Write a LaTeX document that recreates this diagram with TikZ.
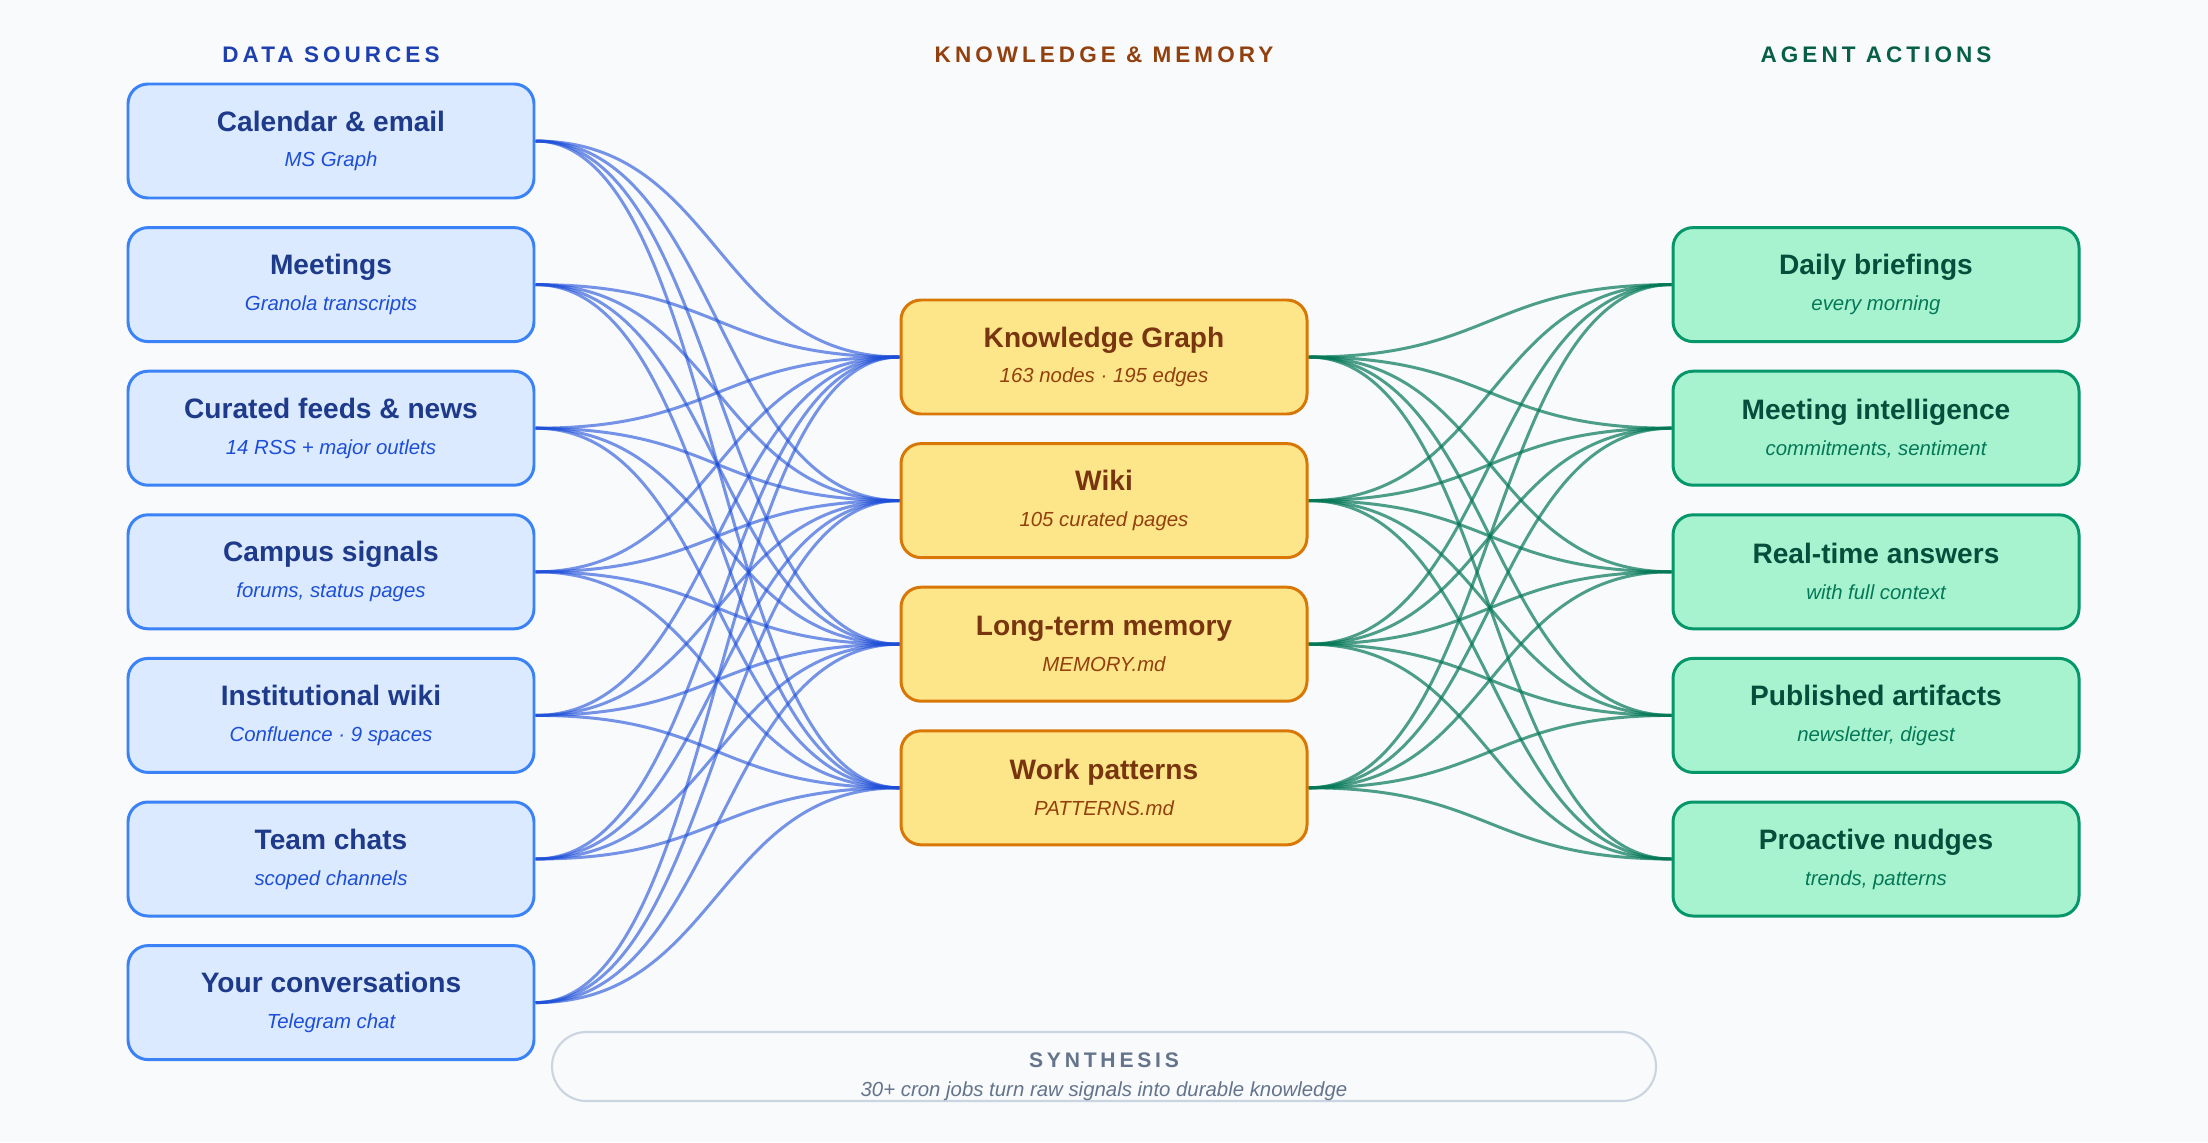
\documentclass[tikz,border=0pt]{standalone}
\usepackage{fontspec}
\setmainfont{Liberation Sans}
\newfontfamily\capsfont[LetterSpace=18]{Liberation Sans}
\usetikzlibrary{backgrounds}
\definecolor{page}{HTML}{F8FAFC}
\definecolor{srcfill}{HTML}{DBEAFE}
\definecolor{srcline}{HTML}{3B82F6}
\definecolor{srcink}{HTML}{1E3A8A}
\definecolor{srcsub}{HTML}{1D4ED8}
\definecolor{srchead}{HTML}{1E40AF}
\definecolor{srcwire}{HTML}{1D4ED8}
\definecolor{memfill}{HTML}{FDE68A}
\definecolor{memline}{HTML}{D97706}
\definecolor{memink}{HTML}{78350F}
\definecolor{memsub}{HTML}{92400E}
\definecolor{actfill}{HTML}{A7F3D0}
\definecolor{actline}{HTML}{059669}
\definecolor{actink}{HTML}{064E3B}
\definecolor{actsub}{HTML}{047857}
\definecolor{acthead}{HTML}{065F46}
\definecolor{actwire}{HTML}{047857}
\definecolor{synline}{HTML}{CBD5E1}
\definecolor{synink}{HTML}{64748B}

\newcommand{\boxlines}[3]{{\fontsize{8}{10}\selectfont\bfseries #1}\\[-1.8pt]
  {\fontsize{5.8}{7}\selectfont\itshape\color{#3}#2}}

\tikzset{
  card/.style={rectangle,rounded corners=0.2cm,minimum width=4.06cm,
    minimum height=1.14cm,line width=0.85pt,inner sep=0pt,align=center},
  srccard/.style={card,draw=srcline,fill=srcfill,text=srcink},
  memcard/.style={card,draw=memline,fill=memfill,text=memink},
  actcard/.style={card,draw=actline,fill=actfill,text=actink},
  colhead/.style={font=\capsfont\bfseries\fontsize{6.4}{8}\selectfont},
  wirein/.style={draw=srcwire,line width=0.85pt,opacity=0.6},
  wireout/.style={draw=actwire,line width=0.85pt,opacity=0.7}
}

\begin{document}
\begin{tikzpicture}
  \useasboundingbox (0,0) rectangle (22.08,11.42);

  % Column headings
  \node[colhead,text=srchead] (hsrc) at (3.31,10.87) {DATA SOURCES};
  \node[colhead,text=memsub] (hmem) at (11.04,10.87) {KNOWLEDGE \& MEMORY};
  \node[colhead,text=acthead] (hact) at (18.76,10.87) {AGENT ACTIONS};

  % Data sources
  \node[srccard] (cal) at (3.31,10.01)
    {\boxlines{Calendar \& email}{MS Graph}{srcsub}};
  \node[srccard] (meet) at (3.31,8.574)
    {\boxlines{Meetings}{Granola transcripts}{srcsub}};
  \node[srccard] (feeds) at (3.31,7.138)
    {\boxlines{Curated feeds \& news}{14 RSS + major outlets}{srcsub}};
  \node[srccard] (campus) at (3.31,5.702)
    {\boxlines{Campus signals}{forums, status pages}{srcsub}};
  \node[srccard] (instwiki) at (3.31,4.266)
    {\boxlines{Institutional wiki}{Confluence · 9 spaces}{srcsub}};
  \node[srccard] (chats) at (3.31,2.83)
    {\boxlines{Team chats}{scoped channels}{srcsub}};
  \node[srccard] (convo) at (3.31,1.394)
    {\boxlines{Your conversations}{Telegram chat}{srcsub}};

  % Knowledge & memory
  \node[memcard] (kg) at (11.04,7.85)
    {\boxlines{Knowledge Graph}{163 nodes · 195 edges}{memsub}};
  \node[memcard] (wiki) at (11.04,6.414)
    {\boxlines{Wiki}{105 curated pages}{memsub}};
  \node[memcard] (ltm) at (11.04,4.978)
    {\boxlines{Long-term memory}{MEMORY.md}{memsub}};
  \node[memcard] (patt) at (11.04,3.542)
    {\boxlines{Work patterns}{PATTERNS.md}{memsub}};

  % Agent actions
  \node[actcard] (brief) at (18.76,8.574)
    {\boxlines{Daily briefings}{every morning}{actsub}};
  \node[actcard] (meetint) at (18.76,7.138)
    {\boxlines{Meeting intelligence}{commitments, sentiment}{actsub}};
  \node[actcard] (answers) at (18.76,5.702)
    {\boxlines{Real-time answers}{with full context}{actsub}};
  \node[actcard] (artifacts) at (18.76,4.266)
    {\boxlines{Published artifacts}{newsletter, digest}{actsub}};
  \node[actcard] (nudges) at (18.76,2.83)
    {\boxlines{Proactive nudges}{trends, patterns}{actsub}};

  % Synthesis strip
  \node[rectangle,rounded corners=0.345cm,minimum width=11.04cm,
    minimum height=0.69cm,draw=synline,fill=page,line width=0.6pt]
    (synth) at (11.04,0.755) {};
  \node[align=center,inner sep=0pt,text=synink] (synthtext)
    at ([yshift=-0.1cm]synth.center)
    {{\capsfont\bfseries\fontsize{6}{7}\selectfont SYNTHESIS}\\[-3.6pt]
     {\fontsize{5.8}{7}\selectfont\itshape 30+ cron jobs turn raw signals
      into durable knowledge}};

  % Wiring behind the cards
  \begin{scope}[on background layer]
    \fill[page] (0,0) rectangle (22.08,11.42);
    \foreach \s in {cal,meet,feeds,campus,instwiki,chats,convo}
      \foreach \m in {kg,wiki,ltm,patt}
        \draw[wirein] (\s.east) .. controls +(1.835,0) and +(-1.835,0)
          .. (\m.west);
    \foreach \m in {kg,wiki,ltm,patt}
      \foreach \a in {brief,meetint,answers,artifacts,nudges}
        \draw[wireout] (\m.east) .. controls +(1.835,0) and +(-1.835,0)
          .. (\a.west);
  \end{scope}
\end{tikzpicture}
\end{document}
